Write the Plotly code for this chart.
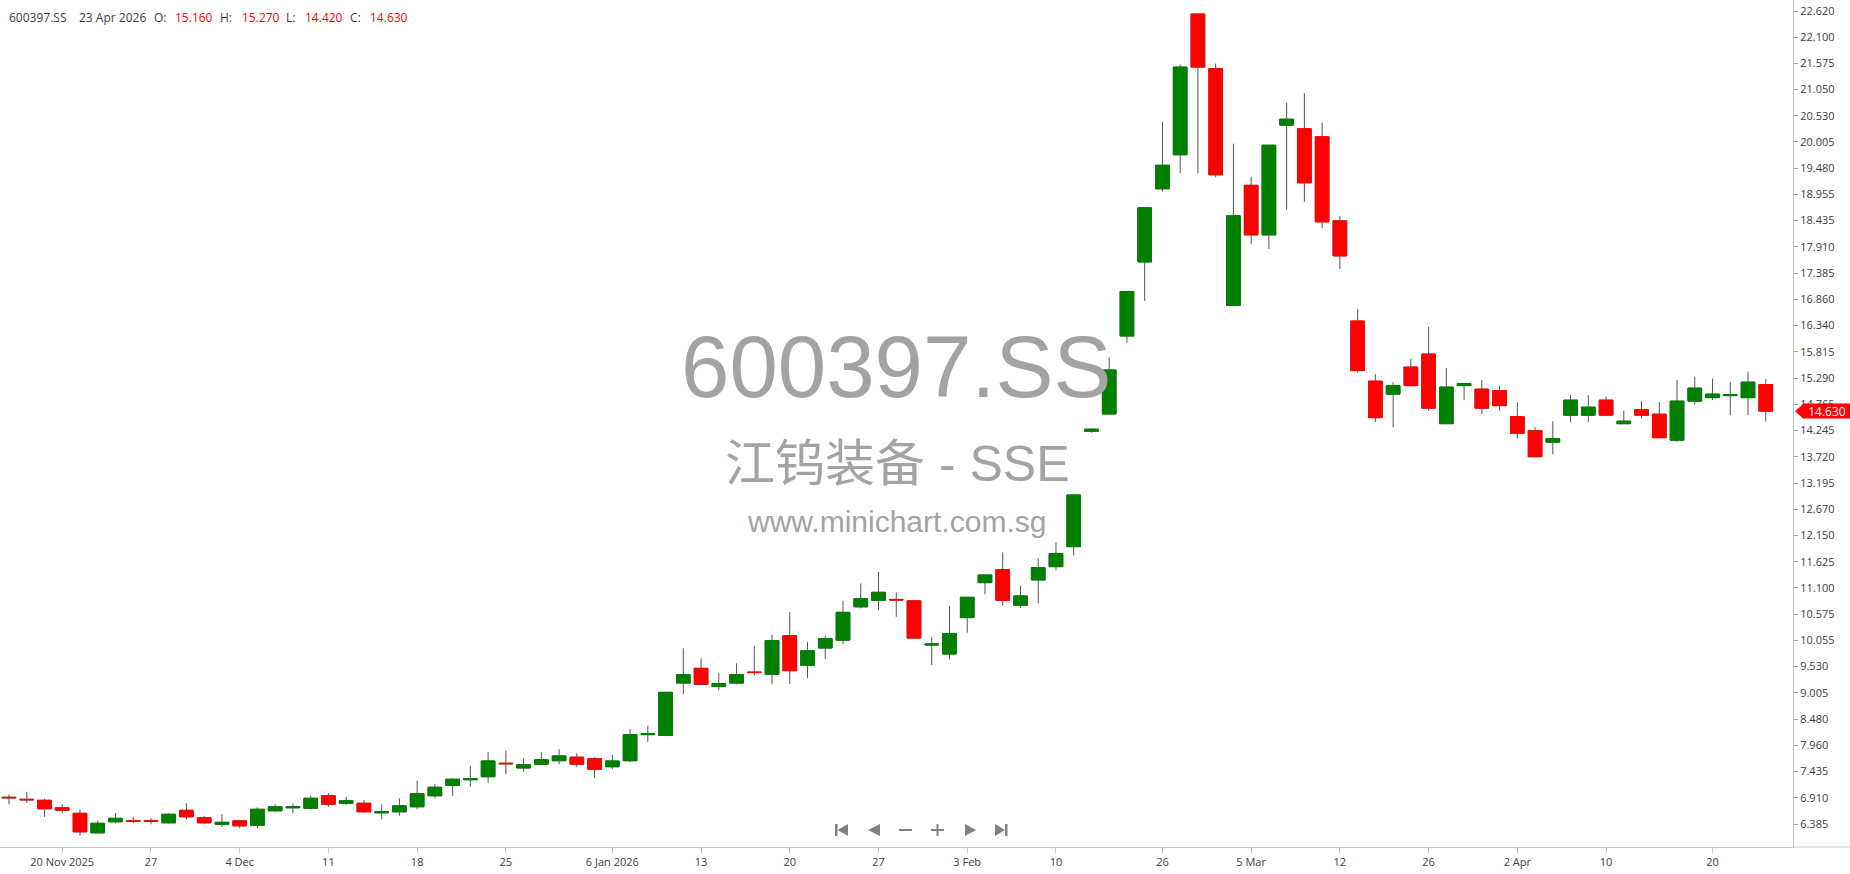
import datetime as dt

import plotly.graph_objects as go

# --- data -------------------------------------------------------------------
symbol = "600397.SS"
name_cn = "江钨装备 - SSE"
site = "www.minichart.com.sg"

dates = [
    "2025-11-17", "2025-11-18", "2025-11-19", "2025-11-20", "2025-11-21",
    "2025-11-24", "2025-11-25", "2025-11-26", "2025-11-27", "2025-11-28",
    "2025-12-01", "2025-12-02", "2025-12-03", "2025-12-04", "2025-12-05",
    "2025-12-08", "2025-12-09", "2025-12-10", "2025-12-11", "2025-12-12",
    "2025-12-15", "2025-12-16", "2025-12-17", "2025-12-18", "2025-12-19",
    "2025-12-22", "2025-12-23", "2025-12-24", "2025-12-25", "2025-12-26",
    "2025-12-29", "2025-12-30", "2025-12-31", "2026-01-05", "2026-01-06",
    "2026-01-07", "2026-01-08", "2026-01-09", "2026-01-12", "2026-01-13",
    "2026-01-14", "2026-01-15", "2026-01-16", "2026-01-19", "2026-01-20",
    "2026-01-21", "2026-01-22", "2026-01-23", "2026-01-26", "2026-01-27",
    "2026-01-28", "2026-01-29", "2026-01-30", "2026-02-02", "2026-02-03",
    "2026-02-04", "2026-02-05", "2026-02-06", "2026-02-09", "2026-02-10",
    "2026-02-11", "2026-02-12", "2026-02-13", "2026-02-24", "2026-02-25",
    "2026-02-26", "2026-02-27", "2026-03-02", "2026-03-03", "2026-03-04",
    "2026-03-05", "2026-03-06", "2026-03-09", "2026-03-10", "2026-03-11",
    "2026-03-12", "2026-03-13", "2026-03-16", "2026-03-17", "2026-03-18",
    "2026-03-26", "2026-03-27", "2026-03-30", "2026-03-31", "2026-04-01",
    "2026-04-02", "2026-04-03", "2026-04-07", "2026-04-08", "2026-04-09",
    "2026-04-10", "2026-04-13", "2026-04-14", "2026-04-15", "2026-04-16",
    "2026-04-17", "2026-04-20", "2026-04-21", "2026-04-22", "2026-04-23",
]

opens = [
    6.92, 6.88, 6.86, 6.71, 6.60, 6.21, 6.43, 6.45, 6.45, 6.41,
    6.66, 6.51, 6.38, 6.45, 6.36, 6.65, 6.71, 6.70, 6.95, 6.80,
    6.80, 6.61, 6.63, 6.73, 6.95, 7.16, 7.27, 7.33, 7.60, 7.505,
    7.58, 7.65, 7.72, 7.69, 7.53, 7.65, 8.17, 8.155, 9.20, 9.495,
    9.13, 9.20, 9.42, 9.375, 10.147, 9.555, 9.90, 10.057, 10.723, 10.853,
    10.87, 10.843, 9.96, 9.78, 10.507, 11.206, 11.465, 10.753, 11.26, 11.525,
    11.924, 14.23, 14.573, 16.13, 17.61, 19.07, 19.75, 22.56, 21.47, 16.74,
    19.14, 18.15, 20.34, 20.27, 20.11, 18.43, 16.43, 15.23, 14.97, 15.51,
    15.77, 14.38, 15.14, 15.07, 15.04, 14.52, 14.24, 14.01, 14.55, 14.55,
    14.85, 14.38, 14.66, 14.57, 14.05, 14.83, 14.90, 14.94, 14.90, 15.16,
]
highs = [
    6.97, 7.03, 6.89, 6.78, 6.68, 6.45, 6.61, 6.53, 6.50, 6.60,
    6.80, 6.55, 6.58, 6.47, 6.72, 6.78, 6.79, 6.95, 7.00, 6.93,
    6.86, 6.78, 6.90, 7.25, 7.18, 7.30, 7.55, 7.82, 7.85, 7.70,
    7.82, 7.88, 7.80, 7.72, 7.77, 8.28, 8.35, 9.02, 9.895, 9.695,
    9.395, 9.595, 9.94, 10.167, 10.62, 10.015, 10.145, 10.843, 11.19, 11.418,
    11.013, 10.866, 10.114, 10.743, 10.92, 11.36, 11.81, 11.14, 11.69, 12.01,
    12.956, 14.28, 15.705, 17.02, 18.69, 20.41, 21.55, 22.56, 21.57, 19.97,
    19.31, 19.94, 20.79, 20.98, 20.39, 18.53, 16.67, 15.37, 15.21, 15.68,
    16.31, 15.49, 15.18, 15.25, 15.14, 14.81, 14.31, 14.43, 14.95, 14.95,
    14.92, 14.64, 14.83, 14.81, 15.25, 15.32, 15.28, 15.21, 15.42, 15.27,
]
lows = [
    6.78, 6.81, 6.53, 6.60, 6.15, 6.20, 6.40, 6.40, 6.38, 6.40,
    6.48, 6.38, 6.33, 6.31, 6.30, 6.63, 6.60, 6.67, 6.73, 6.77,
    6.61, 6.48, 6.55, 6.68, 6.90, 6.95, 7.13, 7.21, 7.38, 7.43,
    7.58, 7.58, 7.525, 7.30, 7.48, 7.625, 8.025, 8.15, 8.98, 9.17,
    9.056, 9.175, 9.35, 9.175, 9.18, 9.305, 9.68, 9.978, 10.693, 10.653,
    10.524, 10.077, 9.558, 9.678, 10.207, 10.973, 10.746, 10.706, 10.793, 11.452,
    11.751, 14.20, 14.57, 16.00, 16.83, 19.02, 19.38, 19.38, 19.30, 16.74,
    17.96, 17.87, 18.65, 18.81, 18.29, 17.47, 15.40, 14.41, 14.31, 15.14,
    14.64, 14.38, 14.85, 14.57, 14.64, 14.08, 13.72, 13.77, 14.41, 14.41,
    14.55, 14.38, 14.48, 14.10, 14.01, 14.76, 14.85, 14.55, 14.55, 14.42,
]
closes = [
    6.91, 6.87, 6.69, 6.66, 6.23, 6.40, 6.50, 6.44, 6.44, 6.58,
    6.53, 6.41, 6.42, 6.35, 6.68, 6.73, 6.73, 6.90, 6.78, 6.85,
    6.63, 6.63, 6.75, 6.99, 7.12, 7.28, 7.29, 7.645, 7.59, 7.57,
    7.67, 7.745, 7.58, 7.48, 7.645, 8.17, 8.19, 9.016, 9.37, 9.175,
    9.19, 9.37, 9.41, 10.048, 9.448, 9.845, 10.09, 10.613, 10.886, 11.013,
    10.86, 10.10, 9.98, 10.19, 10.913, 11.358, 10.853, 10.94, 11.505, 11.785,
    12.956, 14.27, 15.452, 17.02, 18.69, 19.54, 21.50, 21.50, 19.35, 18.53,
    18.15, 19.94, 20.46, 19.19, 18.41, 17.73, 15.44, 14.50, 15.14, 15.14,
    14.69, 15.11, 15.18, 14.69, 14.74, 14.19, 13.72, 14.08, 14.85, 14.71,
    14.55, 14.43, 14.55, 14.10, 14.83, 15.09, 14.97, 14.96, 15.21, 14.63,
]

tick_dates = [
    "2025-11-20", "2025-11-27", "2025-12-04", "2025-12-11", "2025-12-18",
    "2025-12-25", "2026-01-06", "2026-01-13", "2026-01-20", "2026-01-27",
    "2026-02-03", "2026-02-10", "2026-02-26", "2026-03-05", "2026-03-12",
    "2026-03-26", "2026-04-02", "2026-04-10", "2026-04-20",
]
tick_text = [
    "20 Nov 2025", "27", "4 Dec", "11", "18", "25", "6 Jan 2026", "13", "20",
    "27", "3 Feb", "10", "26", "5 Mar", "12", "26", "2 Apr", "10", "20",
]

price_ticks = [
    22.620, 22.100, 21.575, 21.050, 20.530, 20.005, 19.480, 18.955, 18.435,
    17.910, 17.385, 16.860, 16.340, 15.815, 15.290, 14.765, 14.245, 13.720,
    13.195, 12.670, 12.150, 11.625, 11.100, 10.575, 10.055, 9.530, 9.005,
    8.480, 7.960, 7.435, 6.910, 6.385,
]

# --- style ------------------------------------------------------------------
UP, DOWN, WICK = "#008000", "#ff0000", "#555555"
AXIS, TXT, MARK, NAV = "#c4c4c4", "#3c3c3c", "#a3a3a3", "#808080"
FONT = "Open Sans, Liberation Sans, sans-serif"

W, H = 1850, 874
PW, PH = 1793, 847          # plot area in pixels (top-left origin)


def px(x):
    return x / PW


def py(y):
    return 1 - y / PH


xs = list(range(len(dates)))
body_hi = [max(o, c) for o, c in zip(opens, closes)]
body_lo = [min(o, c) for o, c in zip(opens, closes)]

fig = go.Figure()
# wicks (gray) underneath
fig.add_trace(go.Candlestick(
    x=xs, open=opens, high=highs, low=lows, close=closes,
    increasing=dict(line=dict(color=WICK, width=1), fillcolor=WICK),
    decreasing=dict(line=dict(color=WICK, width=1), fillcolor=WICK),
    whiskerwidth=0, hoverinfo="skip", showlegend=False,
))
# coloured bodies on top
fig.add_trace(go.Candlestick(
    x=xs, open=opens, high=body_hi, low=body_lo, close=closes,
    increasing=dict(line=dict(color=UP, width=1), fillcolor=UP),
    decreasing=dict(line=dict(color=DOWN, width=1), fillcolor=DOWN),
    whiskerwidth=0, text=dates, showlegend=False,
))

# header line
last_day = dt.date.fromisoformat(dates[-1])
header = [
    (6.5, symbol, TXT),
    (77, f"{last_day.day} {last_day:%b %Y}", TXT),
    (152, "O:", TXT), (173, f"{opens[-1]:.3f}", DOWN),
    (218, "H:", TXT), (240, f"{highs[-1]:.3f}", DOWN),
    (284, "L:", TXT), (303, f"{lows[-1]:.3f}", DOWN),
    (348, "C:", TXT), (368, f"{closes[-1]:.3f}", DOWN),
]
annotations = [
    dict(x=px(x), y=py(18), xref="paper", yref="paper", text=t, showarrow=False,
         xanchor="left", yanchor="middle", font=dict(family=FONT, size=12, color=c))
    for x, t, c in header
]

# watermark
annotations += [
    dict(x=0.5, y=py(366), xref="paper", yref="paper", text=symbol, showarrow=False,
         font=dict(family="Liberation Sans, Arial, sans-serif", size=87, color=MARK)),
    dict(x=0.5, y=py(464), xref="paper", yref="paper", text=name_cn, showarrow=False,
         font=dict(family="Liberation Sans, Noto Sans CJK SC, sans-serif", size=50, color=MARK)),
    dict(x=0.5, y=py(521), xref="paper", yref="paper", text=site, showarrow=False,
         font=dict(family="Liberation Sans, Arial, sans-serif", size=30, color=MARK)),
]

# last price marker
last = closes[-1]
annotations.append(dict(
    x=px(1802), y=last, xref="paper", yref="y", text=f"{last:.3f}", showarrow=False,
    xanchor="left", yanchor="middle", width=48, height=14, borderpad=0,
    bgcolor=DOWN, font=dict(family=FONT, size=12, color="white"),
))
half = 7 / (PH / (22.84 - 5.927))
shapes = [
    dict(type="path", xref="paper", yref="y", layer="above", line=dict(width=0), fillcolor=DOWN,
         path=f"M {px(1795)},{last} L {px(1803)},{last + half} L {px(1803)},{last - half} Z"),
    # x axis line continues under the price scale
    dict(type="line", xref="paper", yref="paper", x0=1, x1=W / PW, y0=0, y1=0,
         line=dict(color=AXIS, width=1)),
]


# navigation buttons
def tri(x0, x1, tip_left):
    tx, bx = (x0, x1) if tip_left else (x1, x0)
    return (f"M {px(tx)},{py(830)} L {px(bx)},{py(824)} L {px(bx)},{py(836)} Z")


def rect(x0, x1, y0, y1):
    return f"M {px(x0)},{py(y0)} L {px(x1)},{py(y0)} L {px(x1)},{py(y1)} L {px(x0)},{py(y1)} Z"


nav_paths = [
    rect(835, 837.5, 824, 836), tri(837.5, 848, True),
    tri(868, 880, True),
    rect(899, 912, 829, 831),
    rect(931, 944, 829, 831), rect(936.5, 938.5, 824, 836),
    tri(965, 976, False),
    tri(995, 1005, False), rect(1005, 1007.5, 824, 836),
]
shapes += [
    dict(type="path", xref="paper", yref="paper", path=p, line=dict(width=0), fillcolor=NAV, layer="above")
    for p in nav_paths
]

fig.update_layout(
    width=W, height=H,
    margin=dict(l=0, r=W - PW, t=0, b=H - PH, pad=0),
    paper_bgcolor="white", plot_bgcolor="white",
    showlegend=False, boxgap=0.23, boxgroupgap=0,
    font=dict(family=FONT, size=11, color=TXT),
    xaxis=dict(
        range=[-9 / 17.745, (PW - 9) / 17.745],
        tickvals=[dates.index(d) for d in tick_dates], ticktext=tick_text,
        showgrid=False, zeroline=False, showline=True, linecolor=AXIS, linewidth=1,
        ticks="outside", ticklen=5, tickcolor=AXIS, tickfont=dict(size=11, color=TXT),
        rangeslider=dict(visible=False), fixedrange=True,
    ),
    yaxis=dict(
        side="right", range=[5.927, 22.84],
        tickvals=price_ticks, ticktext=[f"{v:.3f}" for v in price_ticks],
        showgrid=False, zeroline=False, showline=True, linecolor=AXIS, linewidth=1,
        ticks="outside", ticklen=4, tickcolor="#9a9a9a", tickfont=dict(size=11, color=TXT),
        fixedrange=True,
    ),
    annotations=annotations, shapes=shapes,
)

fig.write_html(
    "out.html",
    config={"displayModeBar": False},
    post_script="document.body.style.margin='0';document.body.style.overflow='hidden';",
)
